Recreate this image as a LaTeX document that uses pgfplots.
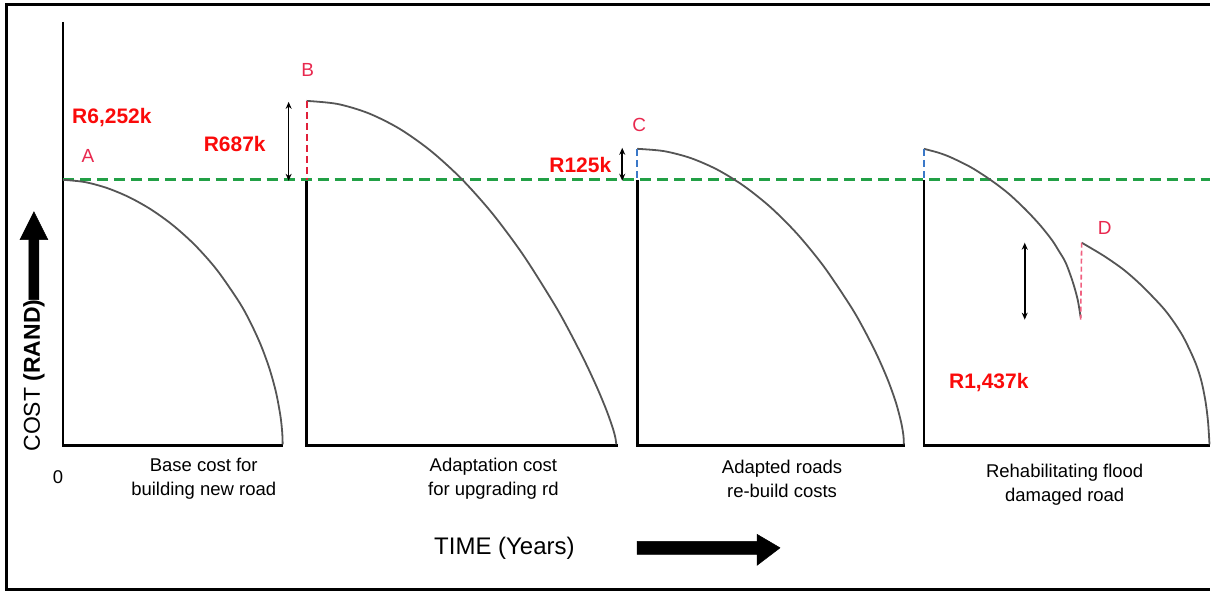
\documentclass[border=0pt]{standalone}
\usepackage{pgfplots}
\pgfplotsset{compat=1.18}
\usepackage{fontspec}
\setmainfont{Liberation Sans}
\usetikzlibrary{arrows.meta}
\definecolor{valred}{RGB}{250,10,10}
\definecolor{letred}{RGB}{232,40,78}
\definecolor{dgreen}{RGB}{34,160,70}
\definecolor{dblue}{RGB}{58,120,200}
\definecolor{dred}{RGB}{224,32,58}
\definecolor{dpink}{RGB}{240,96,128}
\definecolor{curvegray}{RGB}{85,85,85}
\begin{document}
\begin{tikzpicture}
\begin{axis}[
  width=1211pt, height=592pt, scale only axis,
  xmin=0, xmax=1211, ymin=0, ymax=592, y dir=reverse,
  axis lines=none, ticks=none, clip=false,
]
% bounding helper
\addplot[draw=none] coordinates {(0,0) (1211,592)};
% frame
\addplot[black, line width=3pt] coordinates {(1211,5) (7,5) (7,590) (1211,590)};
% axis lines / base segments
\addplot[black, line width=2.6pt] coordinates {(63,22) (63,446) (283,446)};
\addplot[black, line width=2.6pt] coordinates {(307,180) (307,446) (619,446)};
\addplot[black, line width=2.6pt] coordinates {(638,180) (638,446) (906,446)};
\addplot[black, line width=2.6pt] coordinates {(925,180) (925,446) (1211,446)};
% green dashed base line
\addplot[dgreen, line width=3pt, dash pattern=on 11pt off 6pt] coordinates {(63,180) (1211,180)};
% curves
\addplot[curvegray, line width=1.8pt, smooth] coordinates {(63,180) (85,182.3) (107,188.2) (129,197.3) (151,209.6) (173,225.4) (195,245.2) (217,270.0) (239,301.7) (250,321.3) (261,345.1) (269.8,369.1) (276.4,393.0) (280.8,416.6) (282.6,433.4) (283,445)};
\addplot[curvegray, line width=1.8pt, smooth] coordinates {(307,101) (338,104.1) (369,113.4) (400,128.9) (431,150.8) (462,179.0) (493,213.8) (524,255.5) (555,304.6) (570.5,332.4) (586,362.7) (598.4,389.5) (607.7,412.0) (613.9,429.8) (616.4,439.6) (617,445)};
\addplot[curvegray, line width=1.8pt, smooth] coordinates {(638,149) (664.7,151.3) (691.4,158.2) (718.1,169.8) (744.8,186.2) (771.5,207.5) (798.2,234.2) (824.9,266.9) (851.6,306.5) (864.95,329.7) (878.3,356.0) (889.0,380.6) (897.0,403.0) (902.3,423.0) (904.5,435.9) (905,445)};
\addplot[curvegray, line width=1.8pt, smooth] coordinates {(925,149) (940,153) (953,158) (973,168) (993,181) (1010,194) (1027,210) (1041,225) (1053,240) (1060,251) (1067,263) (1074,282) (1079,300) (1082,318)};
\addplot[curvegray, line width=1.8pt, smooth] coordinates {(1083,243) (1095,250) (1108,258) (1125,270) (1140,283) (1155,298) (1166,310) (1175,322) (1184,336) (1192,352) (1198,366) (1203,382) (1207,402) (1209.5,422) (1211,445)};
% coloured dashed verticals
\addplot[dred, line width=2.2pt, dash pattern=on 7pt off 4pt] coordinates {(307,101) (307,180)};
\addplot[dblue, line width=2.2pt, dash pattern=on 7pt off 4pt] coordinates {(638,149) (638,180)};
\addplot[dblue, line width=2.2pt, dash pattern=on 7pt off 4pt] coordinates {(925,149) (925,180)};
\addplot[dpink, line width=1.6pt, dash pattern=on 5pt off 3pt] coordinates {(1083,243) (1082,320)};
% double arrows
\addplot[black, line width=1.6pt, {Stealth[length=7pt,width=6pt]}-{Stealth[length=7pt,width=6pt]}] coordinates {(289,102) (289,181)};
\addplot[black, line width=1.6pt, {Stealth[length=7pt,width=6pt]}-{Stealth[length=7pt,width=6pt]}] coordinates {(623,148) (623,181)};
\addplot[black, line width=1.6pt, {Stealth[length=7pt,width=6pt]}-{Stealth[length=7pt,width=6pt]}] coordinates {(1026,243) (1026,320)};
% block arrows
\addplot[fill=black, draw=black, line width=0.5pt] coordinates {(29,300) (29,240) (20,240) (34,212) (48,240) (39,240) (39,300)} --cycle;
\addplot[fill=black, draw=black, line width=0.5pt] coordinates {(638,542) (758,542) (758,535) (781,548.5) (758,566) (758,555) (638,555)} --cycle;
% value labels
\node[text=valred, font=\fontsize{21}{25}\selectfont\bfseries] at (axis cs:112,118) {R6,252k};
\node[text=valred, font=\fontsize{21}{25}\selectfont\bfseries] at (axis cs:235,144) {R687k};
\node[text=valred, font=\fontsize{21}{25}\selectfont\bfseries] at (axis cs:581,165) {R125k};
\node[text=valred, font=\fontsize{21}{25}\selectfont\bfseries] at (axis cs:990,383) {R1,437k};
% letters
\node[text=letred, font=\fontsize{19}{23}\selectfont] at (axis cs:88,156) {A};
\node[text=letred, font=\fontsize{19}{23}\selectfont] at (axis cs:308,70) {B};
\node[text=letred, font=\fontsize{19}{23}\selectfont] at (axis cs:640,125) {C};
\node[text=letred, font=\fontsize{19}{23}\selectfont] at (axis cs:1106,228) {D};
% x labels
\node[font=\fontsize{18.5}{24}\selectfont] at (axis cs:58,478) {0};
\node[align=center, font=\fontsize{18.5}{24}\selectfont] at (axis cs:204,479) {Base cost for\\building new road};
\node[align=center, font=\fontsize{18.5}{24}\selectfont] at (axis cs:494,479) {Adaptation cost\\for upgrading rd};
\node[align=center, font=\fontsize{18.5}{24}\selectfont] at (axis cs:783,479) {Adapted roads\\re-build costs};
\node[align=center, font=\fontsize{18.5}{24}\selectfont] at (axis cs:1066,485) {Rehabilitating flood\\damaged road};
\node[font=\fontsize{24}{28}\selectfont] at (axis cs:505,549) {TIME (Years)};
\node[rotate=90, font=\fontsize{23}{27}\selectfont] at (axis cs:34,376) {COST \textbf{(RAND)}};
\end{axis}
\end{tikzpicture}
\end{document}
